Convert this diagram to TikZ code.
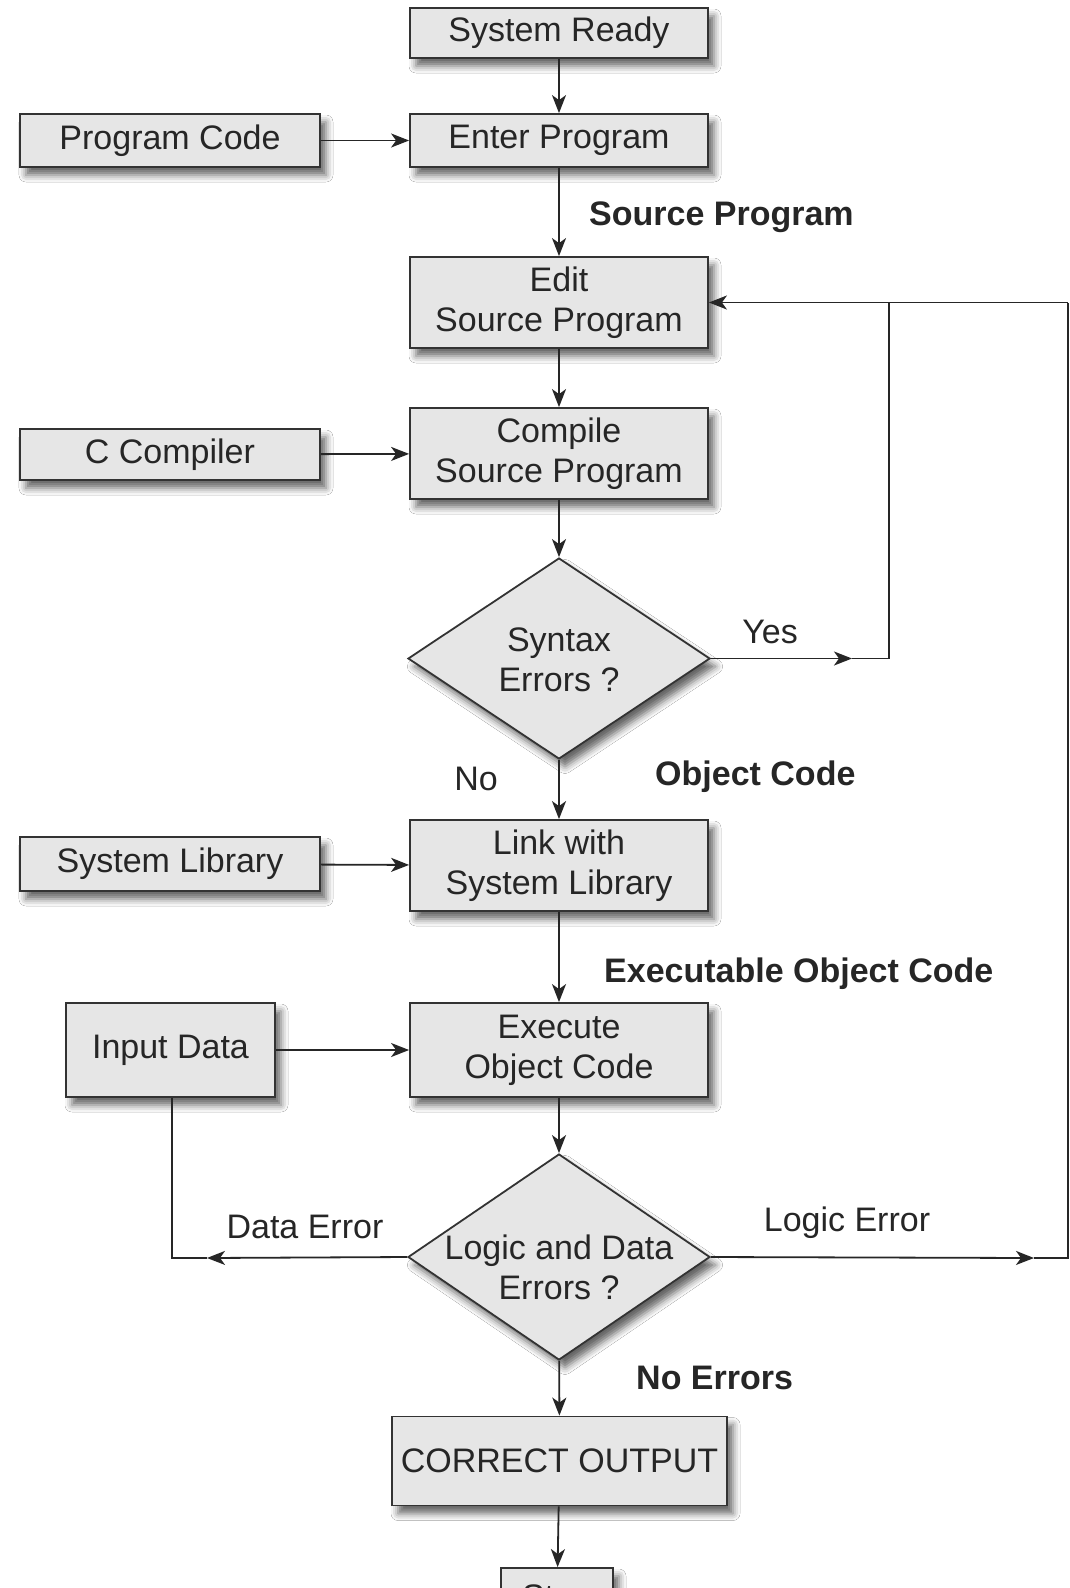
\documentclass[tikz,border=0pt]{standalone}
\usepackage{fontspec}
\setmainfont{Liberation Sans}
\usetikzlibrary{shapes.geometric,arrows.meta,shadows.blur}
\definecolor{boxfill}{HTML}{E6E6E6}
\definecolor{boxline}{HTML}{333333}
\definecolor{ink}{HTML}{262626}
\tikzset{
  base/.style={draw=boxline, fill=boxfill, line width=1.8pt, inner sep=0pt,
    align=center, text=ink, font=\fontsize{34}{40}\selectfont,
    blur shadow={shadow xshift=6pt, shadow yshift=-8pt, shadow blur radius=7pt, shadow opacity=60}},
  stepbox/.style={base, rectangle},
  decide/.style={base, diamond, aspect=1.5},
  dtext/.style={align=center, text=ink, font=\fontsize{34}{40}\selectfont, inner sep=0pt},
  lab/.style={text=ink, font=\fontsize{34}{40}\selectfont, inner sep=0pt},
  blab/.style={text=ink, font=\fontsize{34}{40}\selectfont\bfseries, inner sep=0pt},
  conn/.style={draw=ink, line width=1.8pt},
  arr/.style={conn, -{Stealth[length=18pt, width=14pt, inset=5pt]}},
}
\begin{document}
\begin{tikzpicture}[x=1pt, y=-1pt]
\useasboundingbox (0,0) rectangle (1069,1588);
\clip (0,0) rectangle (1069,1588);
\fill[white] (0,0) rectangle (1069,1588);

% main column
\node[stepbox, minimum width=298, minimum height=50] (ready) at (559,33) {System Ready};
\node[stepbox, minimum width=300, minimum height=53] (pcode) at (170,140.5) {Program Code};
\node[stepbox, minimum width=298, minimum height=53] (enter) at (559,140.5) {Enter Program};
\node[stepbox, minimum width=298, minimum height=91] (edit) at (559,302.5) {Edit\\Source Program};
\node[stepbox, minimum width=300, minimum height=51] (ccomp) at (170,454.5) {C Compiler};
\node[stepbox, minimum width=298, minimum height=91] (compile) at (559,453.5) {Compile\\Source Program};
\node[decide, minimum width=302, minimum height=201] (syn) at (559,658.5) {};
\node[dtext] (syntxt) at (559,660) {Syntax\\Errors ?};
\node[stepbox, minimum width=300, minimum height=54] (slib) at (170,864) {System Library};
\node[stepbox, minimum width=298, minimum height=91] (link) at (559,865.5) {Link with\\System Library};
\node[stepbox, minimum width=209, minimum height=94] (input) at (170.5,1050) {Input Data};
\node[stepbox, minimum width=298, minimum height=94] (exec) at (559,1050) {Execute\\Object Code};
\node[decide, minimum width=302, minimum height=206] (logic) at (559,1257) {};
\node[dtext] (logtxt) at (559,1267) {Logic and Data\\Errors ?};
\node[stepbox, minimum width=335, minimum height=89] (correct) at (559.5,1461) {CORRECT OUTPUT};
\node[stepbox, minimum width=112, minimum height=64] (stop) at (557,1600) {Stop};

% labels
\node[blab, anchor=west] (lsrc) at (589,217) {Source Program};
\node[lab] (lyes) at (770,632) {Yes};
\node[lab] (lno) at (476,779) {No};
\node[blab, anchor=west] (lobj) at (655,777) {Object Code};
\node[blab, anchor=west] (lexe) at (604,974) {Executable Object Code};
\node[lab] (ldata) at (305,1227) {Data Error};
\node[lab] (llogic) at (847,1223) {Logic Error};
\node[blab, anchor=west] (lnoerr) at (636,1378) {No Errors};

% helper coordinates
\coordinate (yesarr) at (852,658.5);
\coordinate (yesc) at (889,658.5);
\coordinate (rtop) at (1068,302.5);
\coordinate (rbot) at (1068,1258);
\coordinate (logarr) at (1034,1258);
\coordinate (datarr) at (207,1258);
\coordinate (datc) at (172,1258);

% vertical flow
\draw[arr] (ready) -- (enter);
\draw[arr] (enter) -- (edit);
\draw[arr] (edit) -- (compile);
\draw[arr] (compile) -- (syn);
\draw[arr] (syn) -- (link);
\draw[arr] (link) -- (exec);
\draw[arr] (exec) -- (logic);
\draw[arr] (logic) -- (correct);
\draw[arr] (correct) -- (stop);

% side inputs
\draw[arr] (pcode) -- (enter);
\draw[arr] (ccomp) -- (compile);
\draw[arr] (slib) -- (link);
\draw[arr] (input) -- (exec);

% Yes loop
\draw[arr] (syn.east) -- (yesarr);
\draw[conn] (yesarr) -- (yesc) -- (yesc |- rtop);
\draw[arr] (rtop) -- (edit.east);

% Logic error loop
\draw[arr] (logic.east) -- (logarr);
\draw[conn] (logarr) -- (rbot) -- (rtop);

% Data error loop
\draw[arr] (logic.west) -- (datarr);
\draw[conn] (datarr) -- (datc) -- (datc |- input.south);
\end{tikzpicture}
\end{document}
